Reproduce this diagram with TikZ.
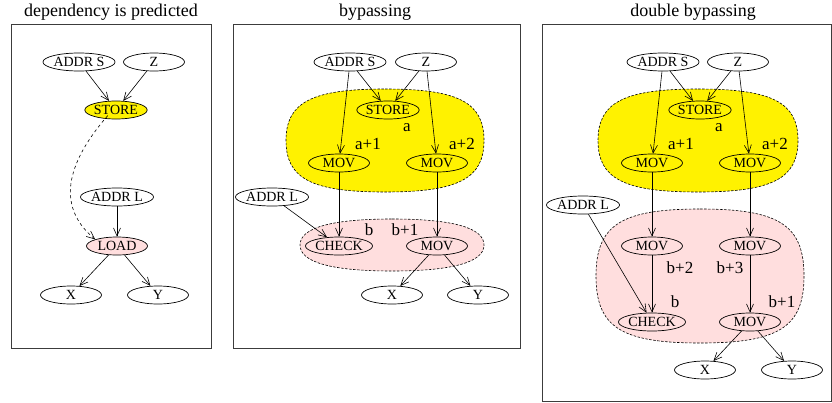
\documentclass[tikz,border=0pt]{standalone}
\usepackage{fontspec}
\setmainfont{Liberation Serif}
\usetikzlibrary{shapes.geometric,arrows.meta}
\definecolor{pinkfill}{RGB}{255,222,222}
\definecolor{boxc}{RGB}{60,60,60}
\tikzset{
  nd/.style={ellipse, draw, line width=0.7pt, minimum width=61pt, minimum height=18pt, inner sep=0pt, font=\fontsize{14}{15}\selectfont},
  lbl/.style={font=\fontsize{17}{18}\selectfont, inner sep=0pt},
  ttl/.style={font=\fontsize{18}{20}\selectfont, inner sep=0pt},
  arr/.style={-{Straight Barb[length=8pt,width=7pt]}, line width=0.6pt},
  blob/.style={dash pattern=on 2.5pt off 1.5pt, line width=0.6pt},
  panel/.style={draw=boxc, line width=0.9pt}
}
% squircle-like blob: centre x, centre y, half width, half height, corner factor
\newcommand\blobpath[5]{({#1},{#2-#4}) .. controls ({#1+#5*#3},{#2-#4}) and ({#1+#3},{#2-#5*#4}) .. ({#1+#3},{#2})
  .. controls ({#1+#3},{#2+#5*#4}) and ({#1+#5*#3},{#2+#4}) .. ({#1},{#2+#4})
  .. controls ({#1-#5*#3},{#2+#4}) and ({#1-#3},{#2+#5*#4}) .. ({#1-#3},{#2})
  .. controls ({#1-#3},{#2-#5*#4}) and ({#1-#5*#3},{#2-#4}) .. ({#1},{#2-#4}) -- cycle}
\begin{document}
\begin{tikzpicture}[x=1pt,y=-1pt]
\useasboundingbox (0,0) rectangle (832,402);
% ---------- panel 1 ----------
\node[ttl] (t1) at (111,12) {dependency is predicted};
\draw[panel] (11,24) rectangle (211,348);
\node[nd] (a1s) at (79,62) {ADDR S};
\node[nd] (a1z) at (154,62) {Z};
\node[nd, fill=yellow] (a1st) at (116,110) {STORE};
\node[nd] (a1l) at (117,197) {ADDR L};
\node[nd, fill=pinkfill] (a1ld) at (117,246) {LOAD};
\node[nd] (a1x) at (71,295) {X};
\node[nd] (a1y) at (158,295) {Y};
\draw[arr] (a1s) -- (a1st);
\draw[arr] (a1z) -- (a1st);
\draw[arr] (a1l) -- (a1ld);
\draw[arr] (a1ld) -- (a1x);
\draw[arr] (a1ld) -- (a1y);
\draw[arr, dashed] (a1st.south west) ++(14,-1) .. controls (78,150) and (48,200) .. (a1ld.north west);
% ---------- panel 2 ----------
\node[ttl] (t2) at (375,12) {bypassing};
\draw[panel] (233,24) rectangle (520,348);
\draw[blob, fill=yellow] \blobpath{385}{140.5}{99}{51.5}{0.74};
\draw[blob, fill=pinkfill] \blobpath{392}{245}{92}{26}{0.66};
\node[nd] (b2s) at (350,62) {ADDR S};
\node[nd] (b2z) at (426,62) {Z};
\node[nd] (b2st) at (388,110) {STORE};
\node[nd] (b2m1) at (339,163) {MOV};
\node[nd] (b2m2) at (437,163) {MOV};
\node[nd] (b2l) at (272,197) {ADDR L};
\node[nd] (b2c) at (339,246) {CHECK};
\node[nd] (b2m3) at (437,246) {MOV};
\node[nd] (b2x) at (392,295) {X};
\node[nd] (b2y) at (478,295) {Y};
\node[lbl] (b2la) at (407,128) {a};
\node[lbl] (b2la1) at (368,144) {a+1};
\node[lbl] (b2la2) at (462,144) {a+2};
\node[lbl] (b2lb) at (369,230) {b};
\node[lbl] (b2lb1) at (405,230) {b+1};
\draw[arr] (b2s) -- (b2st);
\draw[arr] (b2z) -- (b2st);
\draw[arr] (b2s) -- (b2m1);
\draw[arr] (b2z) -- (b2m2);
\draw[arr] (b2m1) -- (b2c);
\draw[arr] (b2m2) -- (b2m3);
\draw[arr] (b2l) -- (b2c);
\draw[arr] (b2m3) -- (b2x);
\draw[arr] (b2m3) -- (b2y);
% ---------- panel 3 ----------
\node[ttl] (t3) at (693,12) {double bypassing};
\draw[panel] (542,24) rectangle (831,401);
\draw[blob, fill=yellow] \blobpath{698}{140.5}{100}{51.5}{0.74};
\draw[blob, fill=pinkfill] \blobpath{700}{276}{104}{67}{0.76};
\node[nd] (c3s) at (663,62) {ADDR S};
\node[nd] (c3z) at (738,62) {Z};
\node[nd] (c3st) at (700,110) {STORE};
\node[nd] (c3m1) at (652,163) {MOV};
\node[nd] (c3m2) at (750,163) {MOV};
\node[nd] (c3l) at (583,205) {ADDR L};
\node[nd] (c3m4) at (652,246) {MOV};
\node[nd] (c3m5) at (750,246) {MOV};
\node[nd] (c3c) at (652,322) {CHECK};
\node[nd] (c3m6) at (750,322) {MOV};
\node[nd] (c3x) at (705,370) {X};
\node[nd] (c3y) at (792,370) {Y};
\node[lbl] (c3la) at (719,128) {a};
\node[lbl] (c3la1) at (681,144) {a+1};
\node[lbl] (c3la2) at (775,144) {a+2};
\node[lbl] (c3lb2) at (680,268) {b+2};
\node[lbl] (c3lb3) at (730,268) {b+3};
\node[lbl] (c3lb) at (675,302) {b};
\node[lbl] (c3lb1) at (782,302) {b+1};
\draw[arr] (c3s) -- (c3st);
\draw[arr] (c3z) -- (c3st);
\draw[arr] (c3s) -- (c3m1);
\draw[arr] (c3z) -- (c3m2);
\draw[arr] (c3m1) -- (c3m4);
\draw[arr] (c3m2) -- (c3m5);
\draw[arr] (c3m4) -- (c3c);
\draw[arr] (c3m5) -- (c3m6);
\draw[arr] (c3l) -- (c3c);
\draw[arr] (c3m6) -- (c3x);
\draw[arr] (c3m6) -- (c3y);
\end{tikzpicture}
\end{document}
